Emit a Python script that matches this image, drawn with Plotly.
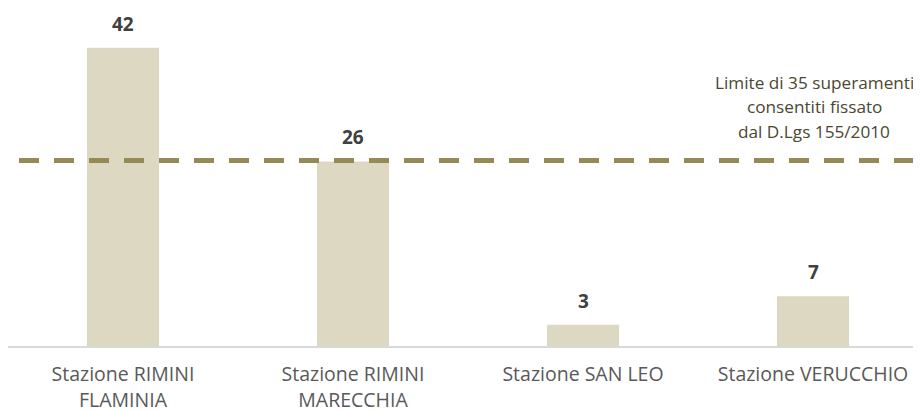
import plotly.graph_objects as go

categories = ["Stazione RIMINI<br>FLAMINIA", "Stazione RIMINI<br>MARECCHIA", "Stazione SAN LEO", "Stazione VERUCCHIO"]
values = [42, 26, 3, 7]
limit_value = 35
limit_lines = ["Limite di 35 superamenti", "consentiti fissato", "dal D.Lgs 155/2010"]

W, H = 921, 411
# the page body adds an 8px offset, compensated here
left, right, top, bottom = 0, 0, 12, 73
plot_w = W - left - right
plot_h = H - top - bottom
px_per_cat = 230
px_per_unit = 7.1
limit_px = 185.5  # pixel height of limit line above baseline (secondary scale)

fig = go.Figure()
fig.add_trace(go.Bar(
    x=list(range(len(categories))), y=values,
    marker=dict(color="#DDD8C1", line=dict(width=0)),
    width=0.313, hoverinfo="skip",
))
fig.add_trace(go.Scatter(x=[0], y=[limit_value], yaxis="y2", mode="markers",
                         marker=dict(opacity=0), hoverinfo="skip", showlegend=False))

for i, v in enumerate(values):
    fig.add_annotation(x=i, y=v, text=f"<b>{v}</b>", showarrow=False,
                       yanchor="bottom", yshift=9,
                       font=dict(family="Open Sans", size=19, color="#404040"))

fig.add_shape(type="line", xref="paper", yref="y2",
              x0=11 / plot_w, x1=1, y0=limit_value, y1=limit_value,
              line=dict(color="#958A56", width=5, dash="20px,15px"))

line_offsets = [78.5, 54, 29.5]
for txt, off in zip(limit_lines, line_offsets):
    fig.add_annotation(xref="paper", yref="y2", x=806 / plot_w, y=limit_value,
                       text=txt, showarrow=False, xanchor="center",
                       yanchor="middle", yshift=off,
                       font=dict(family="Open Sans", size=17.2, color="#4B4730"))

fig.update_layout(
    width=W, height=H,
    margin=dict(l=left, r=right, t=top, b=bottom, autoexpand=False),
    plot_bgcolor="white", paper_bgcolor="white",
    showlegend=False,
    xaxis=dict(range=[-0.5, -0.5 + plot_w / px_per_cat], automargin=False,
               tickmode="array", tickvals=list(range(len(categories))),
               ticktext=categories, showgrid=False, zeroline=False,
               showline=True, linecolor="#D9D9D9", linewidth=2, ticks="",
               ticklabelstandoff=10,
               tickfont=dict(family="Open Sans", size=19.5, color="#595959")),
    yaxis=dict(range=[0, plot_h / px_per_unit], visible=False, showgrid=False),
    yaxis2=dict(range=[0, plot_h * limit_value / limit_px], overlaying="y",
                visible=False, showgrid=False),
)

fig.write_html("out.html")
